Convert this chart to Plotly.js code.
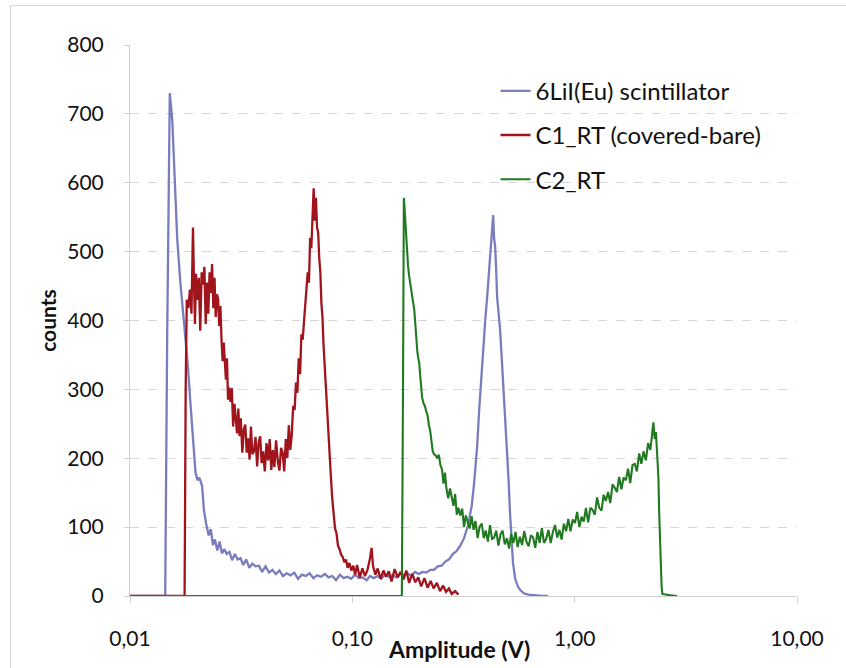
<!DOCTYPE html>
<html>
<head>
<meta charset="utf-8">
<script src="https://cdn.plot.ly/plotly-3.0.1.min.js"></script>
<style>
  html, body { margin: 0; padding: 0; background: #ffffff; }
  #wrap { position: relative; width: 846px; height: 668px; overflow: hidden; }
  #chart { position: absolute; left: 0; top: 0; width: 846px; height: 668px; }
  #frame { position: absolute; left: 10px; top: 5px; width: 900px; height: 700px;
           border-left: 1px solid #d9d9d9; border-top: 1px solid #d9d9d9; pointer-events: none; }
</style>
</head>
<body>
<div id="wrap"><div id="chart"></div><div id="frame"></div></div>
<script>
// ---------- data ----------
const seriesNames = ["6LiI(Eu) scintillator", "C1_RT (covered-bare)", "C2_RT"];

const xTickVals = [0.01, 0.1, 1, 10];
const xTickText = ["0,01", "0,10", "1,00", "10,00"];

// 6LiI(Eu) scintillator
const liiX = [0.010, 0.0144, 0.0147, 0.0151, 0.0155, 0.0159, 0.0163, 0.0168, 0.0173, 0.0177, 0.0182, 0.0187, 0.0193, 0.0197,
  0.0201, 0.0205, 0.0211, 0.0215, 0.0220, 0.0226, 0.0231, 0.0236, 0.0241, 0.0247, 0.0253, 0.0259, 0.0266, 0.0272, 0.0280,
  0.0288, 0.0296, 0.0305, 0.0314, 0.0323, 0.0333, 0.0344, 0.0355, 0.0367, 0.0380, 0.0393, 0.0407, 0.0422, 0.0437, 0.0453,
  0.0470, 0.0488, 0.0507, 0.0527, 0.0548, 0.0570, 0.0593, 0.0617, 0.0642, 0.0668, 0.0695, 0.0723, 0.0752, 0.0782, 0.0813,
  0.0845, 0.0879, 0.0914, 0.0950, 0.0988, 0.1027, 0.107, 0.111, 0.116, 0.120, 0.125, 0.130, 0.135, 0.140, 0.146, 0.152,
  0.158, 0.164, 0.170, 0.177, 0.184, 0.191, 0.199, 0.207, 0.215, 0.224, 0.233, 0.242, 0.252, 0.262, 0.272, 0.283, 0.294,
  0.306, 0.318, 0.331, 0.344, 0.352, 0.358, 0.364, 0.372, 0.380, 0.388, 0.396, 0.404, 0.410, 0.416, 0.420, 0.425, 0.430,
  0.434, 0.439, 0.444, 0.448, 0.455, 0.462, 0.469, 0.476, 0.487, 0.497, 0.505, 0.512, 0.520, 0.528, 0.540, 0.555, 0.568,
  0.59, 0.62, 0.66, 0.71, 0.76];
const liiY = [0, 0, 380, 730, 690, 590, 520, 460, 415, 380, 335, 280, 215, 180,
  168, 172, 160, 125, 105, 88, 97, 74, 82, 66, 79, 62, 68, 61, 64,
  52, 61, 53, 55, 45, 53, 41, 47, 43, 44, 35, 43, 34, 38, 32,
  37, 29, 33, 30, 34, 25, 31, 29, 33, 26, 30, 28, 32, 27, 29,
  23, 31, 26, 28, 25, 31, 26, 27, 23, 29, 26, 29, 25, 31, 28, 30,
  27, 33, 31, 33, 29, 35, 32, 35, 34, 38, 38, 43, 44, 50, 53, 61, 65,
  73, 84, 102, 130, 160, 185, 216, 270, 320, 362, 400, 434, 460, 483, 505, 530, 553,
  520, 507, 470, 434, 410, 386, 350, 313, 260, 216, 165, 120, 80, 48, 25, 14, 9,
  4, 2, 1, 0, 0];

// C1_RT (covered-bare)
const c1X = [0.010, 0.0176, 0.0178, 0.0180, 0.0183, 0.0186, 0.0189, 0.0192, 0.0194, 0.0196, 0.0198, 0.0201, 0.0204, 0.0207,
  0.0210, 0.0213, 0.0216, 0.0219, 0.0222, 0.0225, 0.0228, 0.0231, 0.0234, 0.0237, 0.0240, 0.0243, 0.0246,
  0.0249, 0.0252, 0.0255, 0.0258, 0.0261, 0.0264, 0.0267, 0.0270, 0.0273, 0.0276, 0.0279, 0.0283, 0.0287, 0.0291, 0.0295,
  0.0299, 0.0303, 0.0307, 0.0311, 0.0315, 0.0320, 0.0325, 0.0330, 0.0335, 0.0340, 0.0345, 0.0350, 0.0355, 0.0361, 0.0367,
  0.0373, 0.0379, 0.0385, 0.0391, 0.0397, 0.0404, 0.0411, 0.0418, 0.0425, 0.0432, 0.0439, 0.0446, 0.0454, 0.0462, 0.0470,
  0.0478, 0.0486, 0.0494, 0.0502, 0.0510, 0.0518, 0.0526, 0.0534, 0.0542, 0.0550, 0.0558, 0.0566, 0.0574, 0.0582, 0.0590,
  0.0598, 0.0606, 0.0614, 0.0622, 0.0630, 0.0638, 0.0646, 0.0654, 0.0662, 0.0670, 0.0678, 0.0686, 0.0694, 0.0702, 0.0710,
  0.0718, 0.0726, 0.0734, 0.0742, 0.0750, 0.0760, 0.0770, 0.0780, 0.0790, 0.0800, 0.0812, 0.0824, 0.0836, 0.0848, 0.0862,
  0.0876, 0.0890, 0.0905, 0.0920, 0.0936, 0.0952, 0.0970, 0.0990, 0.101, 0.103, 0.105, 0.108, 0.111, 0.114, 0.117, 0.120,
  0.122, 0.124, 0.127, 0.130, 0.134, 0.138, 0.142, 0.146, 0.150, 0.155, 0.160, 0.165, 0.170, 0.175, 0.180, 0.186, 0.192,
  0.198, 0.204, 0.211, 0.218, 0.225, 0.232, 0.240, 0.248, 0.256, 0.264, 0.272, 0.280, 0.290, 0.300];
const c1Y = [0, 0, 300, 430, 418, 445, 410, 535, 455, 395, 468, 430, 462, 385,
  470, 452, 478, 395, 455, 410, 470, 440, 482, 418, 462, 405, 438,
  432, 392, 421, 372, 341, 368, 344, 314, 345, 285, 303, 282, 302, 246, 279,
  256, 236, 272, 232, 258, 208, 242, 249, 208, 229, 198, 246, 206, 210, 231,
  188, 223, 232, 193, 210, 181, 222, 197, 228, 183, 212, 187, 226, 196, 182,
  215, 208, 181, 228, 200, 248, 212, 234, 276, 270, 310, 295, 345, 322, 380,
  372, 398, 425, 440, 470, 455, 520, 505, 560, 592, 545, 578, 535, 528, 490,
  470, 425, 405, 365, 335, 300, 262, 238, 198, 176, 142, 122, 98, 92, 73,
  68, 60, 57, 49, 53, 41, 48, 37, 44, 31, 45, 27, 40, 29, 38, 54,
  70, 43, 31, 40, 25, 37, 28, 36, 21, 39, 27, 35, 24, 37, 19, 32, 20,
  27, 14, 26, 12, 22, 11, 19, 7, 15, 6, 11, 3, 7, 2];

// C2_RT
const c2X = [0.010, 0.1670, 0.1690, 0.1705, 0.172, 0.174, 0.176, 0.178, 0.180, 0.182, 0.184, 0.186, 0.188, 0.190, 0.192,
  0.194, 0.196, 0.198, 0.200, 0.202, 0.204, 0.206, 0.209, 0.212, 0.215, 0.218, 0.221, 0.224, 0.227, 0.230, 0.233,
  0.237, 0.241, 0.245, 0.249, 0.253, 0.257, 0.261, 0.265, 0.270, 0.275, 0.280, 0.285, 0.290, 0.295, 0.300, 0.306,
  0.312, 0.318, 0.324, 0.330, 0.337, 0.344, 0.351, 0.358, 0.366, 0.374, 0.382, 0.390, 0.398, 0.407, 0.416, 0.425,
  0.434, 0.444, 0.454, 0.464, 0.474, 0.485, 0.496, 0.507, 0.518, 0.530, 0.542, 0.554, 0.567, 0.580, 0.593, 0.607,
  0.621, 0.635, 0.650, 0.665, 0.680, 0.696, 0.712, 0.728, 0.745, 0.762, 0.780, 0.798, 0.816, 0.835, 0.854, 0.874,
  0.894, 0.915, 0.936, 0.958, 0.980, 1.003, 1.026, 1.050, 1.074, 1.099, 1.124, 1.150, 1.177, 1.204, 1.232, 1.261,
  1.290, 1.320, 1.350, 1.381, 1.413, 1.446, 1.480, 1.514, 1.549, 1.585, 1.622, 1.660, 1.698, 1.738, 1.778, 1.820,
  1.862, 1.905, 1.950, 1.995, 2.040, 2.090, 2.140, 2.190, 2.230, 2.260, 2.290, 2.320, 2.350, 2.380, 2.400, 2.430,
  2.460, 2.480, 2.55, 2.70, 2.89];
const c2Y = [0, 0, 300, 578, 560, 530, 507, 480, 465, 455, 445, 440, 430, 415, 395,
  365, 355, 345, 338, 320, 300, 288, 280, 276, 268, 262, 248, 240, 225, 210, 206,
  204, 200, 205, 190, 184, 163, 179, 156, 142, 156, 145, 131, 148, 118, 128, 117,
  127, 100, 117, 107, 98, 116, 96, 109, 84, 101, 105, 84, 95, 79, 103, 83,
  85, 95, 73, 90, 95, 75, 84, 69, 90, 77, 93, 71, 86, 74, 94, 79,
  72, 88, 85, 70, 93, 77, 99, 77, 83, 96, 77, 93, 103, 85, 96, 82,
  105, 94, 112, 94, 111, 106, 122, 100, 115, 108, 128, 107, 128, 125, 118, 143,
  128, 124, 147, 138, 151, 135, 162, 157, 151, 173, 155, 172, 168, 185, 164, 190,
  192, 181, 207, 192, 210, 197, 222, 212, 236, 252, 228, 238, 205, 172, 120, 60,
  15, 3, 2, 1, 0];

// ---------- chart ----------
const FONT = "Lato, 'Open Sans', sans-serif";
const colors = ["#7a7cbd", "#a0141c", "#217a21"];

const traces = [
  { x: liiX, y: liiY, name: seriesNames[0], legendgroup: "a", line: { color: colors[0], width: 2.3 } },
  { x: c1X, y: c1Y, name: seriesNames[1], legendgroup: "b", line: { color: colors[1], width: 2.3 } },
  { x: c2X, y: c2Y, name: seriesNames[2], legendgroup: "c", line: { color: colors[2], width: 2.1 } }
].map(t => Object.assign({ type: "scatter", mode: "lines", hoverinfo: "skip" }, t));

const layout = {
  width: 846, height: 668,
  margin: { l: 130, r: 49, t: 45, b: 72 },
  paper_bgcolor: "#ffffff", plot_bgcolor: "#ffffff",
  font: { family: FONT, size: 21, color: "#111111" },
  showlegend: true,
  legend: {
    x: 0.548, y: 0.957, xanchor: "left", yanchor: "top",
    bgcolor: "rgba(0,0,0,0)", font: { family: FONT, size: 24, color: "#111111" },
    tracegroupgap: 10, traceorder: "grouped"
  },
  xaxis: {
    type: "log", range: [-2, 1],
    tickvals: xTickVals, ticktext: xTickText,
    showgrid: false, zeroline: false,
    showline: true, linecolor: "#d0d0d0", linewidth: 1,
    ticks: "outside", ticklen: 6, tickcolor: "#d0d0d0",
    ticklabelstandoff: 18,
    tickfont: { family: FONT, size: 21, color: "#111111" }
  },
  yaxis: {
    range: [0, 800], dtick: 100, tick0: 0,
    showgrid: true, gridcolor: "#d6d6d6", griddash: "dash", gridwidth: 1,
    zeroline: false, showline: true, linecolor: "#d0d0d0", linewidth: 1,
    ticks: "outside", ticklen: 5, tickcolor: "#d0d0d0",
    ticklabelstandoff: 16,
    tickfont: { family: FONT, size: 21, color: "#111111" },
    title: { text: "<b>counts</b>", font: { family: FONT, size: 21, color: "#111111" }, standoff: 4 }
  },
  annotations: [{
    text: "<b>Amplitude (V)</b>", xref: "paper", yref: "paper",
    x: 0.494, y: -0.067, xanchor: "center", yanchor: "top", showarrow: false,
    font: { family: FONT, size: 23, color: "#111111" }
  }]
};

Plotly.newPlot("chart", traces, layout, { displayModeBar: false, staticPlot: true });
</script>
</body>
</html>
